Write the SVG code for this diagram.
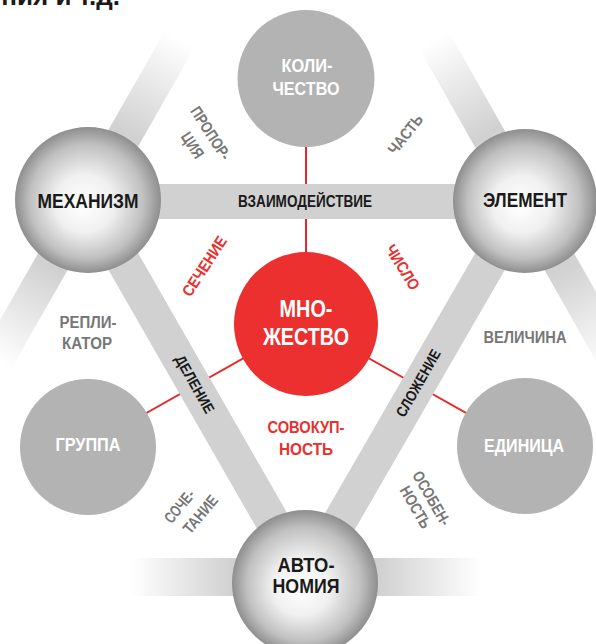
<svg xmlns="http://www.w3.org/2000/svg" width="596" height="644" viewBox="0 0 596 644">
<style>
text{font-family:"Liberation Sans",Arial,sans-serif;font-weight:bold;text-anchor:middle}
.blk{fill:#1a1a1a}
.wht{fill:#ffffff}
.gry{fill:#777777}
.red{fill:#e8302e}
.band{stroke:#d1d1d1;fill:none}
.rl{stroke:#e8282a;stroke-width:2;fill:none}
.flat{fill:#b3b3b3}
</style>
<defs>
<radialGradient id="sph" cx="50%" cy="50%" r="50%" fx="46%" fy="54%">
<stop offset="0" stop-color="#ffffff"/>
<stop offset="0.4" stop-color="#f0f0f0"/>
<stop offset="0.78" stop-color="#c0c0c0"/>
<stop offset="1" stop-color="#8e8e8e"/>
</radialGradient>
<linearGradient id="fade" x1="0" y1="0" x2="1" y2="0">
<stop offset="0" stop-color="#d1d1d1"/>
<stop offset="0.42" stop-color="#d1d1d1"/>
<stop offset="1" stop-color="#ffffff"/>
</linearGradient>
</defs>

<text x="120" y="5" class="blk" style="font-size:26px;text-anchor:end">ния и т.д.</text>

<g id="connectors">
<line class="rl" x1="306" y1="147" x2="306" y2="256"/>
<line class="rl" x1="306" y1="323" x2="88" y2="446"/>
<line class="rl" x1="306" y1="323" x2="525" y2="446"/>
<rect x="0" y="-17" width="185" height="34" fill="url(#fade)" transform="translate(88,200) rotate(-60.3)"/>
<rect x="0" y="-17" width="185" height="34" fill="url(#fade)" transform="translate(88,200) rotate(119.7)"/>
<rect x="0" y="-17" width="185" height="34" fill="url(#fade)" transform="translate(525,201) rotate(-119.5)"/>
<rect x="0" y="-17" width="185" height="34" fill="url(#fade)" transform="translate(525,201) rotate(60.5)"/>
<rect x="0" y="-19" width="175" height="38" fill="url(#fade)" transform="translate(306,577) rotate(180)"/>
<rect x="0" y="-19" width="175" height="38" fill="url(#fade)" transform="translate(306,577)"/>
<line class="band" stroke-width="35" x1="88" y1="201.5" x2="525" y2="201.5"/>
<line class="band" stroke-width="34" x1="88" y1="200" x2="306" y2="580"/>
<line class="band" stroke-width="34" x1="525" y1="201" x2="306" y2="580"/>
<text x="305" y="207" class="blk" style="font-size:16px" textLength="134" lengthAdjust="spacingAndGlyphs">ВЗАИМОДЕЙСТВИЕ</text>
<text class="blk" style="font-size:15px" textLength="64" lengthAdjust="spacingAndGlyphs" transform="translate(195,384) rotate(60.5)" x="0" y="5.5">ДЕЛЕНИЕ</text>
<text class="blk" style="font-size:15px" textLength="75" lengthAdjust="spacingAndGlyphs" transform="translate(418,383) rotate(-60.5)" x="0" y="5.5">СЛОЖЕНИЕ</text>
</g>

<g id="labels">
<g transform="translate(211,133) rotate(57)"><text class="gry" style="font-size:16px" x="0" y="6" textLength="60" lengthAdjust="spacingAndGlyphs">ПРОПОР-</text></g>
<g transform="translate(193,145) rotate(57)"><text class="gry" style="font-size:16px" x="0" y="6" textLength="28" lengthAdjust="spacingAndGlyphs">ЦИЯ</text></g>
<g transform="translate(405,134) rotate(-52)"><text class="gry" style="font-size:16px" x="0" y="6" textLength="46" lengthAdjust="spacingAndGlyphs">ЧАСТЬ</text></g>
<text x="88" y="328" class="gry" style="font-size:16px" textLength="57" lengthAdjust="spacingAndGlyphs">РЕПЛИ-</text>
<text x="87" y="349" class="gry" style="font-size:16px" textLength="50" lengthAdjust="spacingAndGlyphs">КАТОР</text>
<text x="525" y="343" class="gry" style="font-size:16px" textLength="83" lengthAdjust="spacingAndGlyphs">ВЕЛИЧИНА</text>
<g transform="translate(179,506) rotate(-50)"><text class="gry" style="font-size:16px" x="0" y="6" textLength="38" lengthAdjust="spacingAndGlyphs">СОЧЕ-</text></g>
<g transform="translate(200,514) rotate(-50)"><text class="gry" style="font-size:16px" x="0" y="6" textLength="45" lengthAdjust="spacingAndGlyphs">ТАНИЕ</text></g>
<g transform="translate(432,498) rotate(60)"><text class="gry" style="font-size:16px" x="0" y="6" textLength="60" lengthAdjust="spacingAndGlyphs">ОСОБЕН-</text></g>
<g transform="translate(416,507) rotate(60)"><text class="gry" style="font-size:16px" x="0" y="6" textLength="46" lengthAdjust="spacingAndGlyphs">НОСТЬ</text></g>
<g transform="translate(204,266) rotate(-57)"><text class="red" style="font-size:16px" x="0" y="6" textLength="68" lengthAdjust="spacingAndGlyphs">СЕЧЕНИЕ</text></g>
<g transform="translate(403,267) rotate(58)"><text class="red" style="font-size:16px" x="0" y="6" textLength="50" lengthAdjust="spacingAndGlyphs">ЧИСЛО</text></g>
<text x="306" y="433" class="red" style="font-size:17px" textLength="77" lengthAdjust="spacingAndGlyphs">СОВОКУП-</text>
<text x="306" y="455" class="red" style="font-size:17px" textLength="54" lengthAdjust="spacingAndGlyphs">НОСТЬ</text>
</g>

<g id="kolichestvo">
<circle cx="306" cy="78.5" r="68.5" class="flat"/>
<text x="307" y="72" class="wht" style="font-size:18px" textLength="51" lengthAdjust="spacingAndGlyphs">КОЛИ-</text>
<text x="306" y="95" class="wht" style="font-size:18px" textLength="67" lengthAdjust="spacingAndGlyphs">ЧЕСТВО</text>
</g>

<g id="mehanizm">
<circle cx="88" cy="200" r="73" fill="url(#sph)"/>
<text x="88" y="208" class="blk" style="font-size:20px" textLength="101" lengthAdjust="spacingAndGlyphs">МЕХАНИЗМ</text>
</g>

<g id="element">
<circle cx="525" cy="201" r="72" fill="url(#sph)"/>
<text x="525" y="207" class="blk" style="font-size:20px" textLength="84" lengthAdjust="spacingAndGlyphs">ЭЛЕМЕНТ</text>
</g>

<g id="mnozhestvo">
<circle cx="306" cy="324" r="72" fill="#ec2f2f"/>
<text x="306" y="317" class="wht" style="font-size:23px" textLength="53" lengthAdjust="spacingAndGlyphs">МНО-</text>
<text x="306" y="345" class="wht" style="font-size:23px" textLength="86" lengthAdjust="spacingAndGlyphs">ЖЕСТВО</text>
</g>

<g id="gruppa">
<circle cx="88" cy="447" r="68" class="flat"/>
<text x="88" y="451" class="wht" style="font-size:18px" textLength="65" lengthAdjust="spacingAndGlyphs">ГРУППА</text>
</g>

<g id="edinica">
<circle cx="525" cy="446" r="68" class="flat"/>
<text x="524" y="452" class="wht" style="font-size:19px" textLength="80" lengthAdjust="spacingAndGlyphs">ЕДИНИЦА</text>
</g>

<g id="avtonomiya">
<circle cx="305" cy="583" r="73" fill="url(#sph)"/>
<text x="306" y="572" class="blk" style="font-size:20px" textLength="57" lengthAdjust="spacingAndGlyphs">АВТО-</text>
<text x="306" y="593" class="blk" style="font-size:20px" textLength="67" lengthAdjust="spacingAndGlyphs">НОМИЯ</text>
</g>
</svg>
